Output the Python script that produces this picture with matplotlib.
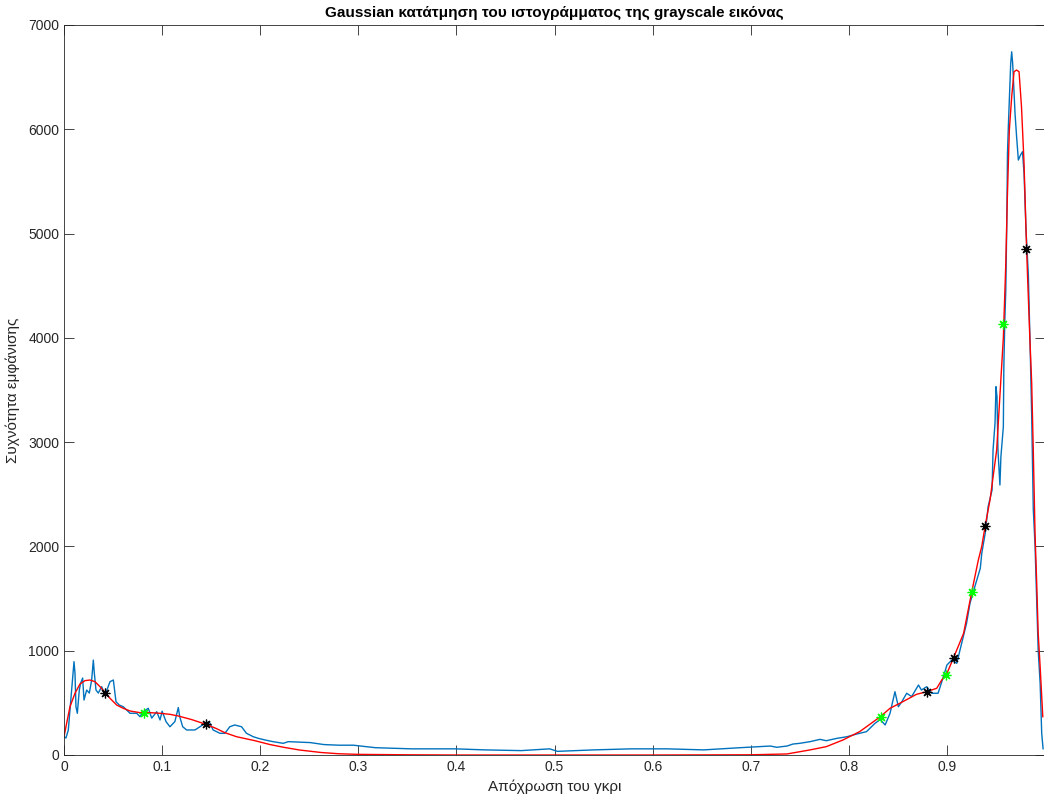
import matplotlib
matplotlib.use("Agg")
import matplotlib.pyplot as plt
import numpy as np

plt.rcParams["font.family"] = ["Liberation Sans", "DejaVu Sans"]

# histogram of the grayscale image
hist_x = [
    0.000, 0.002, 0.0044, 0.0078, 0.0102, 0.0112, 0.0122, 0.0136, 0.0156, 0.017,
    0.019, 0.0204, 0.0231, 0.0258, 0.0282, 0.0299, 0.0309, 0.0326, 0.035, 0.0384,
    0.0418, 0.0469, 0.0503, 0.053, 0.0564, 0.0604, 0.0673, 0.0741, 0.0775, 0.0808,
    0.0859, 0.0894, 0.0945, 0.0979, 0.100, 0.104, 0.108, 0.113, 0.1165, 0.118,
    0.121, 0.125, 0.1335, 0.1386, 0.1437, 0.148, 0.152, 0.159, 0.164, 0.169,
    0.174, 0.181, 0.186, 0.193, 0.198, 0.205, 0.213, 0.2235, 0.2286, 0.251,
    0.265, 0.28, 0.295, 0.3175, 0.3545, 0.399, 0.429, 0.466, 0.495, 0.503,
    0.54, 0.578, 0.615, 0.652, 0.689, 0.7095, 0.72, 0.7265, 0.737, 0.743,
    0.75, 0.7605, 0.7706, 0.777, 0.788, 0.798, 0.808, 0.818, 0.8267, 0.832,
    0.837, 0.842, 0.847, 0.8505, 0.854, 0.859, 0.864, 0.871, 0.874, 0.8794,
    0.8845, 0.891, 0.8964, 0.900, 0.905, 0.910, 0.915, 0.920, 0.9235, 0.9286,
    0.934, 0.9355, 0.939, 0.942, 0.946, 0.947, 0.949, 0.950, 0.951, 0.952,
    0.954, 0.955, 0.9575, 0.958, 0.959, 0.960, 0.961, 0.9617, 0.9627, 0.9636,
    0.965, 0.966, 0.967, 0.9694, 0.971, 0.9728, 0.975, 0.977, 0.9786, 0.9806,
    0.983, 0.9847, 0.9864, 0.988, 0.9898, 0.9915, 0.993, 0.995, 0.9966, 0.998,
]
hist_y = [
    175, 163, 240, 620, 895, 785, 463, 400, 623, 690,
    738, 527, 623, 594, 719, 910, 786, 623, 594, 655,
    575, 703, 719, 511, 479, 463, 400, 400, 367, 415,
    448, 354, 415, 336, 420, 320, 271, 320, 455, 367,
    271, 240, 240, 271, 304, 320, 240, 208, 208, 271,
    288, 271, 208, 175, 160, 144, 128, 112, 128, 119,
    100, 94, 94, 70, 59, 59, 49, 42, 59, 35,
    49, 59, 59, 49, 70, 80, 86, 74, 86, 105,
    112, 128, 150, 137, 160, 175, 201, 224, 304, 340,
    288, 400, 607, 463, 511, 592, 560, 671, 623, 655,
    592, 592, 751, 863, 911, 879, 1071, 1263, 1455, 1620,
    1790, 1934, 2126, 2382, 2541, 2925, 3181, 3532, 3436, 2925,
    2589, 2860, 3148, 3723, 4171, 4460, 5098, 5769, 6056, 6280,
    6632, 6743, 6632, 6152, 5929, 5705, 5753, 5785, 5577, 5034,
    4600, 3960, 3250, 2360, 2010, 1487, 1007, 688, 208, 60,
]

# gaussian mixture fit
fit_x = [
    0.0, 0.0027, 0.0061, 0.0112, 0.0163, 0.0214, 0.0265, 0.0316, 0.0367, 0.0418,
    0.0469, 0.0537, 0.0604, 0.0673, 0.0775, 0.0877, 0.0979, 0.108, 0.1165, 0.13,
    0.1444, 0.155, 0.164, 0.176, 0.1947, 0.21, 0.225, 0.24, 0.262, 0.28,
    0.3, 0.35, 0.4, 0.5, 0.6, 0.7, 0.737, 0.76, 0.777, 0.794,
    0.811, 0.818, 0.832, 0.842, 0.852, 0.869, 0.8794, 0.8896, 0.8947, 0.900,
    0.9065, 0.917, 0.925, 0.932, 0.9355, 0.939, 0.9439, 0.9507, 0.9575, 0.960,
    0.9616, 0.9636, 0.966, 0.9684, 0.971, 0.9735, 0.976, 0.9786, 0.9806, 0.9823,
    0.9845, 0.9864, 0.988, 0.9898, 0.9915, 0.993, 0.995, 0.9977,
]
fit_y = [
    175, 304, 463, 592, 681, 713, 719, 703, 655, 598,
    544, 479, 448, 422, 406, 406, 400, 390, 374, 340,
    295, 255, 214, 175, 137, 100, 72, 48, 24, 12,
    6, 2, 0, 0, 0, 2, 10, 48, 80, 144,
    224, 271, 367, 448, 496, 582, 607, 640, 719, 783,
    927, 1167, 1551, 1870, 2000, 2199, 2445, 2925, 4000, 4716,
    5354, 5993, 6312, 6552, 6568, 6552, 6216, 5673, 5034, 4555,
    4000, 3564, 2925, 2126, 1646, 1167, 847, 367,
]

# component points
black_x = [0.0418, 0.1444, 0.8794, 0.9072, 0.939, 0.9806]
black_y = [598, 295, 607, 927, 2199, 4851]
green_x = [0.0815, 0.8325, 0.899, 0.926, 0.9575]
green_y = [406, 367, 767, 1560, 4133]

x_ticks = [0, 0.1, 0.2, 0.3, 0.4, 0.5, 0.6, 0.7, 0.8, 0.9, 1.0]
# the "1" label falls outside the figure in the reference
x_tick_labels = ["0", "0.1", "0.2", "0.3", "0.4", "0.5", "0.6", "0.7", "0.8", "0.9", ""]
y_ticks = [0, 1000, 2000, 3000, 4000, 5000, 6000, 7000]

AX_COLOR = "#262626"

fig = plt.figure(figsize=(10.44, 8.0), dpi=100)
ax = fig.add_axes([0.0613, 0.05625, 0.9397, 0.9125])

ax.plot(hist_x, hist_y, color="#0072BD", linewidth=1.0)
ax.plot(fit_x, fit_y, color="#FF0000", linewidth=1.0)
ast = (8, 2, 0)
ax.plot(black_x, black_y, linestyle="none", marker=ast, markersize=7,
        markeredgecolor="black", markeredgewidth=0.9)
ax.plot(green_x, green_y, linestyle="none", marker=ast, markersize=7,
        markeredgecolor="#00FF00", markeredgewidth=0.9)

ax.set_xlim(0, 1)
ax.set_ylim(0, 7000)
ax.set_xticks(x_ticks)
ax.set_xticklabels(x_tick_labels)
ax.set_yticks(y_ticks)
ax.tick_params(direction="in", length=7, width=0.6, colors=AX_COLOR, labelsize=10,
               top=True, right=True)
for sp in ax.spines.values():
    sp.set_color(AX_COLOR)
    sp.set_linewidth(0.6)

ax.set_title("Gaussian κατάτμηση του ιστογράμματος της grayscale εικόνας",
             fontsize=11, fontweight="bold", color="black", pad=6)
ax.set_xlabel("Απόχρωση του γκρι", fontsize=11, color=AX_COLOR, labelpad=4)
ax.set_ylabel("Συχνότητα εμφάνισης", fontsize=11, color=AX_COLOR, labelpad=6)

fig.savefig("out.png", dpi=100)
